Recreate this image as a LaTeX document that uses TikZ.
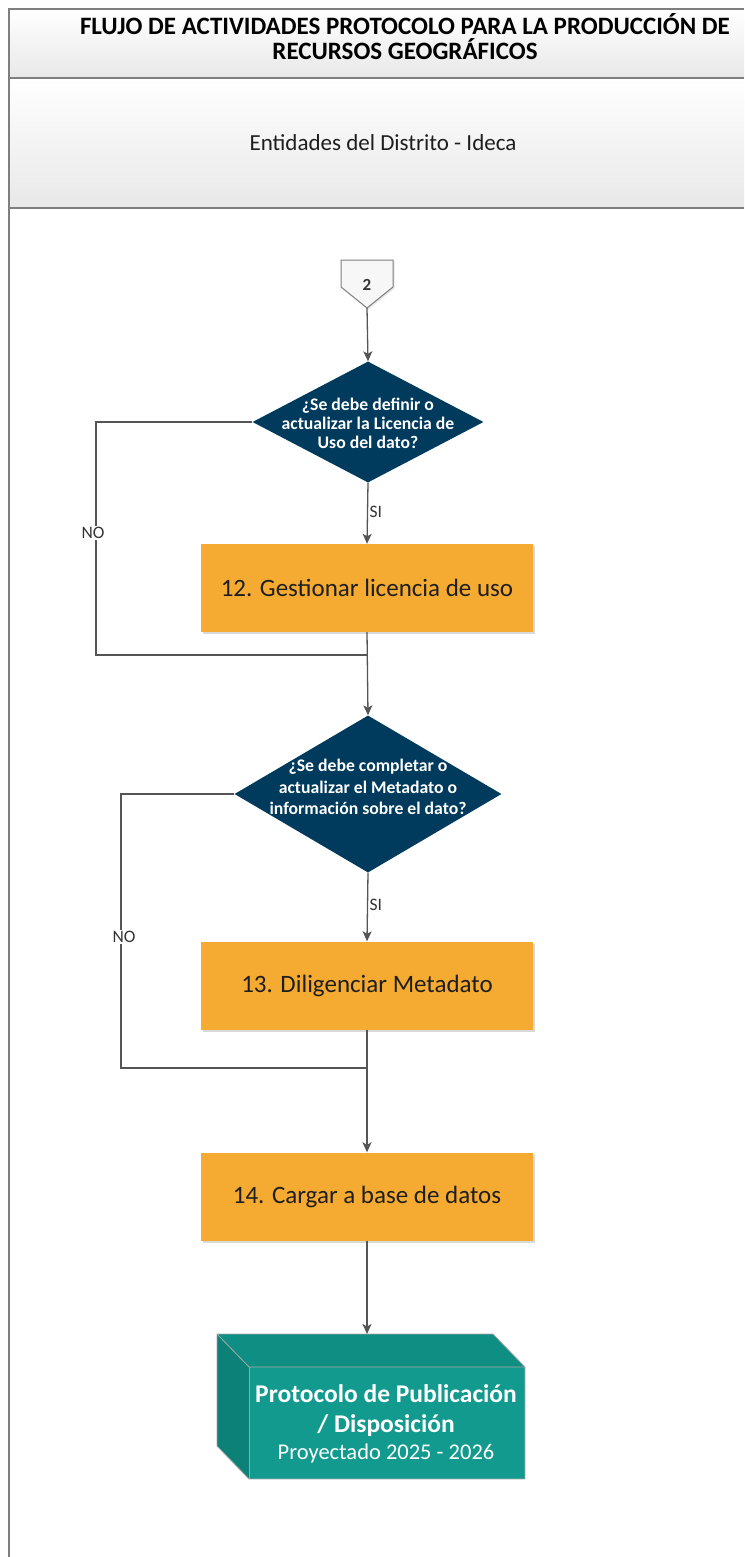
\documentclass[tikz,border=0pt]{standalone}
\usepackage{fontspec}
\setmainfont{Carlito}
\usetikzlibrary{shapes.geometric,arrows.meta,shadows,calc}

\definecolor{navy}{HTML}{003A5C}
\definecolor{amber}{HTML}{F5AB31}
\definecolor{tealfront}{HTML}{129A8E}
\definecolor{tealtop}{HTML}{0F8E83}
\definecolor{tealside}{HTML}{0C8177}
\definecolor{wire}{HTML}{555555}
\definecolor{frame}{HTML}{7F7F7F}
\definecolor{ink}{HTML}{1E1E1E}

\tikzset{
  flow/.style={draw=wire, line width=1.3pt},
  flowarrow/.style={flow, -{Stealth[length=10pt,width=9pt,inset=2.5pt]}},
  activity/.style={rectangle, fill=amber, minimum width=332pt, minimum height=88pt,
    text=ink, font=\fontsize{25}{30}\selectfont,
    drop shadow={opacity=0.3, shadow xshift=2pt, shadow yshift=-2pt}},
  decision/.style={diamond, fill=navy, inner sep=0pt, shape aspect=1},
  decisiontext/.style={text=white, align=center, font=\fontsize{17.7}{19}\selectfont\bfseries},
  answer/.style={text=black!80, font=\fontsize{17.5}{19}\selectfont, inner sep=1.5pt},
}

\begin{document}
\begin{tikzpicture}[x=1pt, y=-1pt]
\useasboundingbox (0,0) rectangle (744,1557);

% lane header
\shade[top color=white, bottom color=black!9] (9,9) rectangle (744,78);
\shade[top color=white, bottom color=black!9] (9,78) rectangle (744,208);
\draw[frame, line width=1.8pt] (744,9) -- (9,9) -- (9,1557);
\draw[frame, line width=1.8pt] (9,78) -- (744,78);
\draw[frame, line width=1.8pt] (9,208) -- (744,208);

\node[align=center, font=\fontsize{25}{25}\selectfont\bfseries] (title) at (405,37)
  {FLUJO DE ACTIVIDADES PROTOCOLO PARA LA PRODUCCIÓN DE\\RECURSOS GEOGRÁFICOS};
\node[font=\fontsize{23}{26}\selectfont, text=ink] (lane) at (383,143) {Entidades del Distrito - Ideca};

% off-page connector 2
\filldraw[draw=frame, fill=black!3, line width=1pt,
  drop shadow={opacity=0.2, shadow xshift=1.5pt, shadow yshift=-1.5pt}]
  (341,260) -- (393,260) -- (393,287) -- (367,308) -- (341,287) -- cycle;
\node[font=\fontsize{17}{19}\selectfont\bfseries, text=black!80] (c2) at (367,285) {2};
\coordinate (c2tip) at (367,308);

% first decision
\node[decision, minimum width=231pt, minimum height=121pt] (d1) at (368,422) {};
\node[decisiontext] (d1t) at (368,423) {¿Se debe definir o\\actualizar la Licencia de\\Uso del dato?};

\node[activity] (b12) at (367,588) {12. Gestionar licencia de uso};

% second decision
\node[decision, minimum width=267pt, minimum height=157pt] (d2) at (368,794) {};
\node[decisiontext, font=\fontsize{17.7}{21.5}\selectfont\bfseries] (d2t) at (368,787)
  {¿Se debe completar o\\actualizar el Metadato o\\información sobre el dato?};

\node[activity] (b13) at (367,985.5) {13. Diligenciar Metadato};
\node[activity] (b14) at (367,1196.5) {14. Cargar a base de datos};

% closing block drawn as a box in perspective
\fill[tealtop] (217,1334) -- (493,1334) -- (525,1367) -- (249,1367) -- cycle;
\fill[tealside] (217,1334) -- (249,1367) -- (249,1479) -- (217,1446) -- cycle;
\node[rectangle, fill=tealfront, minimum width=276pt, minimum height=112pt, inner sep=0pt,
  text=white, align=center] (pub) at (387,1423) {};
\draw[black!35, line width=0.8pt] (217,1334) -- (493,1334) -- (525,1367) -- (525,1479)
  -- (249,1479) -- (217,1446) -- cycle;
\draw[black!35, line width=0.8pt] (217,1334) -- (249,1367) -- (525,1367);
\draw[black!35, line width=0.8pt] (249,1367) -- (249,1479);
\node[text=white, font=\fontsize{25.5}{30}\selectfont\bfseries, align=center] (pubt) at (386,1411)
  {Protocolo de Publicación\\/ Disposición};
\node[text=white, font=\fontsize{22.5}{25}\selectfont] (puby) at (386,1453) {Proyectado 2025 - 2026};
\coordinate (pubtop) at (367,1334);

% connectors
\coordinate (m1) at (368,655);
\coordinate (m2) at (368,1068);
\coordinate (no1) at (96,655);
\coordinate (no2) at (121,1068);

\draw[flowarrow] (c2tip) -- (d1.north);
\draw[flowarrow] (d1.south) -- node[answer, right, pos=0.47] (si1) {SI} (b12.north);
\draw[flow] (d1.west) -| (no1) -- (m1);
\node[answer, fill=white] (no1t) at (93,533) {NO};
\draw[flowarrow] (b12.south) -- (d2.north);

\draw[flowarrow] (d2.south) -- node[answer, right, pos=0.47] (si2) {SI} (b13.north);
\draw[flow] (d2.west) -| (no2) -- (m2);
\node[answer, fill=white] (no2t) at (124,937) {NO};
\draw[flowarrow] (b13.south) -- (b14.north);

\draw[flowarrow] (b14.south) -- (pubtop);
\end{tikzpicture}
\end{document}
